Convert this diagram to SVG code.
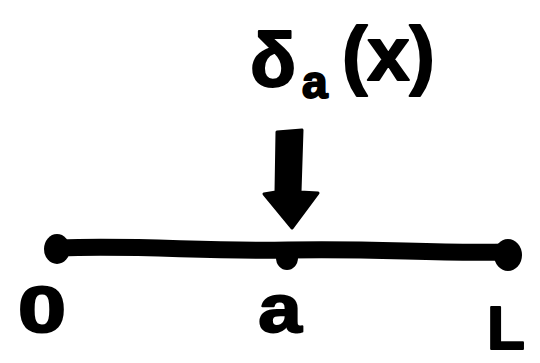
<svg xmlns="http://www.w3.org/2000/svg" width="540" height="363" viewBox="0 0 540 363">
<style>
.t{font-family:"Liberation Sans",Arial,sans-serif;font-weight:bold;fill:#000;stroke:#000;stroke-width:2;stroke-linejoin:round}
</style>
<rect width="540" height="363" fill="#fff"/>
<g id="connectors">
<path d="M58,248 C150,245 200,252 288,250 C380,248 430,254 508,252" fill="none" stroke="#000" stroke-width="17" stroke-linecap="round"/>
<path id="arrow" d="M277,132 L302,130 L300,192 L318,193 L292,228 L264,194 L276,192 Z" fill="#000" stroke="#000" stroke-width="3" stroke-linejoin="round"/>
</g>
<g id="node-0">
<ellipse cx="57" cy="249" rx="13" ry="15"/>
<text class="t" x="0" y="0" font-size="64" text-anchor="middle" transform="translate(42,332) scale(1.35,1)">0</text>
</g>
<g id="node-a">
<ellipse cx="287" cy="258" rx="11" ry="12"/>
<text class="t" x="0" y="0" font-size="68" text-anchor="middle" transform="translate(280,332) scale(1.15,1)">a</text>
</g>
<g id="node-L">
<ellipse cx="508" cy="255" rx="14" ry="16"/>
<text class="t" x="506" y="349" font-size="62" text-anchor="middle">L</text>
</g>
<g id="label">
<text class="t" x="250" y="86" font-size="76">δ</text>
<text class="t" x="302" y="98" font-size="46">a</text>
<text class="t" x="342" y="80" font-size="76">(x)</text>
</g>
</svg>
